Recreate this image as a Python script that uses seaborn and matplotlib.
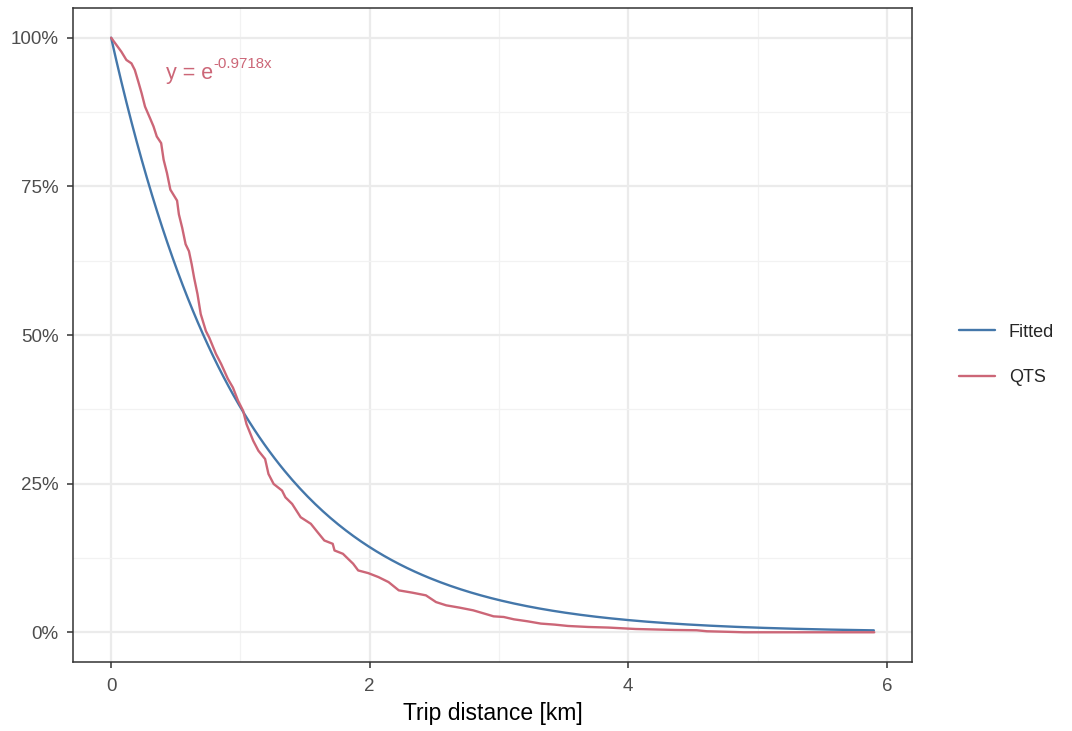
import numpy as np
import pandas as pd
import matplotlib
matplotlib.use("Agg")
import matplotlib.pyplot as plt
import seaborn as sns
from matplotlib.ticker import FuncFormatter, MultipleLocator
from matplotlib.lines import Line2D

# Observed share of trips longer than a given distance (QTS survey)
qts_km = [0.00, 0.079, 0.118, 0.157, 0.183, 0.210, 0.236, 0.262, 0.301, 0.328,
          0.353, 0.387, 0.406, 0.432, 0.458, 0.510, 0.524, 0.550, 0.576, 0.602,
          0.623, 0.642, 0.668, 0.693, 0.733, 0.759, 0.811, 0.851, 0.903, 0.942,
          0.982, 1.021, 1.047, 1.099, 1.139, 1.191, 1.217, 1.257, 1.322, 1.348,
          1.400, 1.466, 1.545, 1.597, 1.649, 1.714, 1.728, 1.793, 1.832, 1.872,
          1.911, 1.989, 2.068, 2.146, 2.225, 2.330, 2.435, 2.513, 2.592, 2.696,
          2.801, 2.906, 2.958, 3.037, 3.115, 3.220, 3.324, 3.430, 3.534, 3.691,
          3.848, 3.953, 4.058, 4.359, 4.529, 4.608, 4.817, 4.895, 5.903]
qts_share = [100.0, 97.65, 96.26, 95.69, 94.58, 92.62, 90.65, 88.42, 86.46, 85.07,
             83.39, 82.27, 79.48, 77.23, 74.45, 72.6, 70.30, 68.00, 65.27, 64.09,
             61.91, 59.61, 56.88, 53.52, 50.67, 49.55, 46.81, 45.13, 42.62, 41.16,
             38.93, 37.25, 35.02, 32.21, 30.54, 29.14, 26.63, 24.95, 23.83, 22.70,
             21.59, 19.35, 18.24, 16.83, 15.44, 14.88, 13.76, 13.20, 12.37, 11.53,
             10.40, 9.95, 9.28, 8.44, 7.05, 6.66, 6.21, 5.08, 4.53, 4.14,
             3.69, 3.02, 2.68, 2.57, 2.18, 1.85, 1.46, 1.29, 1.06, 0.89,
             0.79, 0.67, 0.55, 0.39, 0.34, 0.17, 0.05, 0.0, 0.0]

# Fitted exponential decay rate
fit_rate = 0.9718
fit_km = np.linspace(0, 5.9, 300)
fit_share = 100 * np.exp(-fit_rate * fit_km)

series_names = ["Fitted", "QTS"]
series_colors = ["#4477AA", "#CC6677"]
x_ticks = [0, 2, 4, 6]
y_ticks = [0, 25, 50, 75, 100]

df = pd.concat([
    pd.DataFrame({"km": fit_km, "share": fit_share, "series": "Fitted"}),
    pd.DataFrame({"km": qts_km, "share": qts_share, "series": "QTS"}),
], ignore_index=True)

sns.set_theme(style="white")
plt.rcParams["font.family"] = ["Liberation Sans", "DejaVu Sans"]

fig = plt.figure(figsize=(10.72, 7.31), dpi=100)
ax = fig.add_axes([73 / 1072, 1 - 662 / 731, (912 - 73) / 1072, (662 - 8) / 731])

sns.lineplot(data=df, x="km", y="share", hue="series", hue_order=series_names,
             palette=dict(zip(series_names, series_colors)), linewidth=1.7,
             estimator=None, sort=False, ax=ax, legend=False, zorder=3)

ax.set_xlim(-0.295, 5.9 + 0.295)
ax.set_ylim(-5, 105)
ax.set_xticks(x_ticks)
ax.set_yticks(y_ticks)
ax.xaxis.set_minor_locator(MultipleLocator(1))
ax.yaxis.set_minor_locator(MultipleLocator(12.5))
ax.yaxis.set_major_formatter(FuncFormatter(lambda v, p: f"{v:.0f}%"))

ax.grid(which="major", color="#EBEBEB", linewidth=1.6, zorder=0)
ax.grid(which="minor", color="#F2F2F2", linewidth=0.9, zorder=0)
ax.set_axisbelow(True)
for s in ax.spines.values():
    s.set_color("#333333")
    s.set_linewidth(1.1)
ax.tick_params(axis="both", which="major", length=4, width=1.1, color="#333333",
               labelcolor="#4D4D4D", labelsize=13.5, pad=6.5, left=True, bottom=True)
ax.tick_params(axis="x", which="major", pad=7.5)
ax.tick_params(axis="both", which="minor", length=0)

ax.set_xlabel("Trip distance [km]", fontsize=16.5, color="black", labelpad=5)
ax.set_ylabel("")

# Equation of the fitted curve, with a raised exponent
base = ax.text(0.425, 93.0, "y = e", color=series_colors[1], fontsize=15.5,
               ha="left", va="baseline")
fig.canvas.draw()
bb = base.get_window_extent()
ax.annotate(f"-{fit_rate}x", xy=(bb.x1, bb.y0), xycoords="figure pixels",
            xytext=(0, 11.5), textcoords="offset points",
            color=series_colors[1], fontsize=10.8, ha="left", va="baseline")

# Legend to the right of the panel
handles = [Line2D([], [], color=c, linewidth=1.7) for c in series_colors]
fig.legend(handles, series_names, loc="center left",
           bbox_to_anchor=(943 / 1072, 1 - 355 / 731), frameon=False,
           fontsize=13, handlelength=2.0, labelspacing=1.6, handletextpad=0.75)

fig.savefig("out.png", dpi=100, facecolor="white")
